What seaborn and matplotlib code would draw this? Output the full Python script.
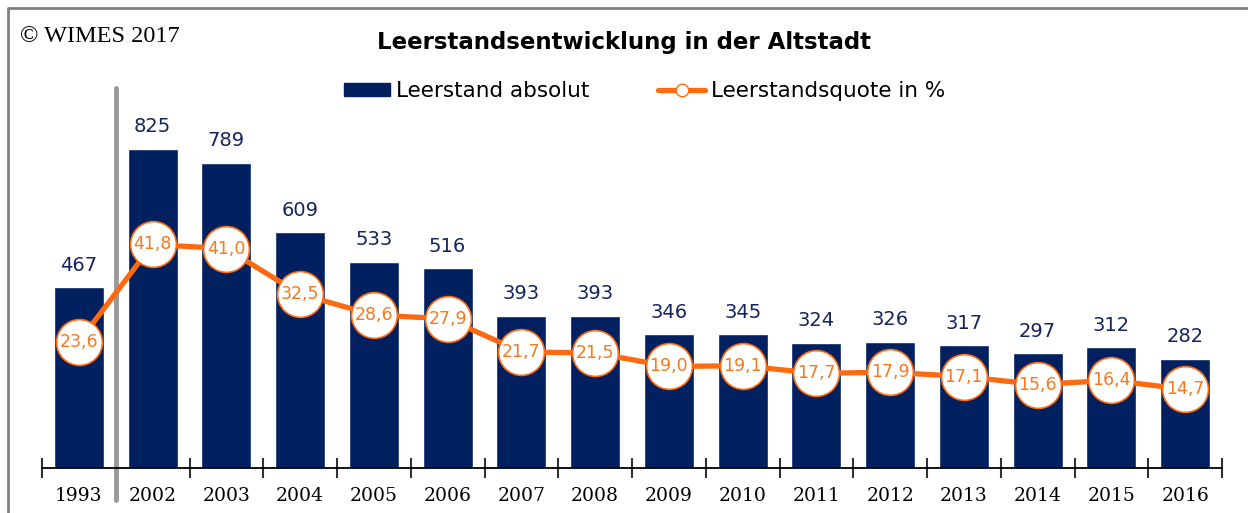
import numpy as np
import matplotlib
matplotlib.use("Agg")
import matplotlib.pyplot as plt
import seaborn as sns
from matplotlib.patches import Patch
from matplotlib.lines import Line2D

# data
years = ["1993", "2002", "2003", "2004", "2005", "2006", "2007", "2008",
         "2009", "2010", "2011", "2012", "2013", "2014", "2015", "2016"]
absolute = [467, 825, 789, 609, 533, 516, 393, 393, 346, 345, 324, 326, 317, 297, 312, 282]
quote = [23.6, 41.8, 41.0, 32.5, 28.6, 27.9, 21.7, 21.5, 19.0, 19.1, 17.7, 17.9, 17.1, 15.6, 16.4, 14.7]

NAVY = "#002060"
ORANGE = "#FF6A10"
LABEL_ORANGE = "#F7781E"

sns.set_theme(style="white")
plt.rcParams["font.family"] = ["DejaVu Sans"]

fig = plt.figure(figsize=(12.48, 5.13), dpi=100)
ax = fig.add_axes([42 / 1248, 1 - 468 / 513, 1180 / 1248, 368 / 513])

sns.barplot(x=years, y=absolute, color=NAVY, saturation=1, width=0.68, ax=ax, zorder=2)
ax.set_ylim(0, 951)
ax.set_xlim(-0.5, len(years) - 0.5)

for i, v in enumerate(absolute):
    ax.annotate(str(v), (i, v), xytext=(0, 9), textcoords="offset points",
                ha="center", va="bottom", fontsize=14, color="#14245e")

# tick marks between categories, labels in the middle
ax.set_xticks(np.arange(len(years) + 1) - 0.5)
ax.set_xticklabels([""] * (len(years) + 1))
ax.set_xticks(np.arange(len(years)), minor=True)
ax.set_xticklabels(years, minor=True, fontsize=13.5, family="DejaVu Serif", color="black")
ax.tick_params(axis="x", which="major", direction="inout", length=15, width=1.5,
               color="#333333", bottom=True)
ax.tick_params(axis="x", which="minor", length=0, pad=14, bottom=True)
ax.set_yticks([])
ax.set_xlabel("")
ax.set_ylabel("")
for s in ["top", "left", "right"]:
    ax.spines[s].set_visible(False)
ax.spines["bottom"].set_color("black")
ax.spines["bottom"].set_linewidth(1.3)

# separator between 1993 and 2002
ax.axvline(0.5, ymin=-0.087, ymax=1.033, color="#999999", lw=3.5, clip_on=False, zorder=1)

# quote line on secondary axis
ax2 = ax.twinx()
sns.lineplot(x=np.arange(len(years)), y=quote, ax=ax2, color=ORANGE, lw=3.8,
             marker="o", markersize=33, markerfacecolor="white",
             markeredgecolor=ORANGE, markeredgewidth=1.2)
ax2.set_ylim(0, 68.8)
ax2.set_yticks([])
ax2.set_ylabel("")
for s in ax2.spines.values():
    s.set_visible(False)
for i, v in enumerate(quote):
    ax2.text(i, v, f"{v:.1f}".replace(".", ","), ha="center", va="center",
             fontsize=12.5, color=LABEL_ORANGE)

# title, copyright, legend
fig.text(0.5, 1 - 42 / 513, "Leerstandsentwicklung in der Altstadt", ha="center", va="center",
         fontsize=16.5, fontweight="bold", color="black")
fig.text(20 / 1248, 1 - 36 / 513, "© WIMES 2017", ha="left", va="center",
         fontsize=17.5, family="Liberation Serif", color="black")

handles = [Patch(facecolor=NAVY, edgecolor=NAVY),
           Line2D([0], [0], color=ORANGE, lw=3.8, marker="o", markersize=9,
                  markerfacecolor="white", markeredgecolor=ORANGE)]
fig.legend(handles, ["Leerstand absolut", "Leerstandsquote in %"], loc="center",
           bbox_to_anchor=(0.5164, 1 - 91 / 513), ncol=2, frameon=False, fontsize=15.5,
           labelcolor="black", handlelength=2.15, handleheight=0.55, handletextpad=0.28,
           columnspacing=3.2)

# frame lines (top and left only)
fig.add_artist(Line2D([8 / 1248, 8 / 1248, 1], [0, 1 - 8 / 513, 1 - 8 / 513],
                      color="#808080", lw=2, transform=fig.transFigure))

fig.savefig("out.png", dpi=100)
